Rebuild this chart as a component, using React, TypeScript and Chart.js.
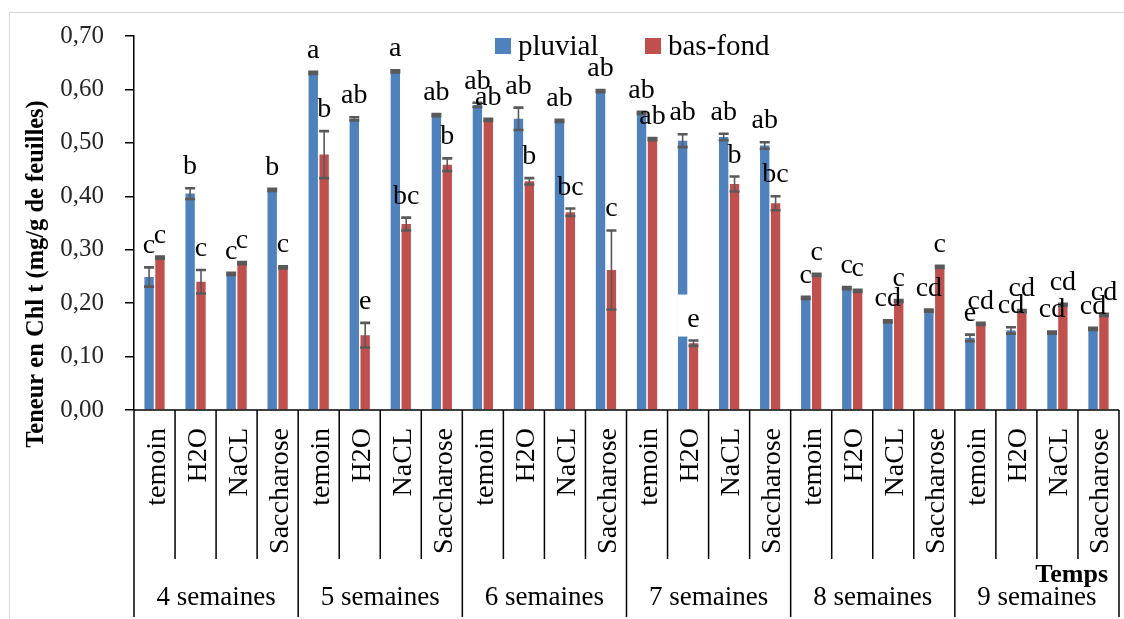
import React, { useEffect, useRef } from "react";
import { Chart, registerables } from "chart.js";

Chart.register(...registerables);

// ---- data ----
const weeks = ["4 semaines", "5 semaines", "6 semaines", "7 semaines", "8 semaines", "9 semaines"];
const treatments = ["temoin", "H2O", "NaCL", "Saccharose"];
const seriesNames = ["pluvial", "bas-fond"];

const pluvial = [
  0.249, 0.405, 0.255, 0.412,
  0.631, 0.545, 0.634, 0.552,
  0.571, 0.545, 0.541, 0.597,
  0.556, 0.504, 0.511, 0.495,
  0.210, 0.228, 0.166, 0.186,
  0.135, 0.149, 0.145, 0.152,
];
const pluvialErr = [
  0.018, 0.010, 0.002, 0.002,
  0.002, 0.003, 0.002, 0.002,
  0.004, 0.021, 0.002, 0.002,
  0.002, 0.012, 0.006, 0.006,
  0.002, 0.002, 0.002, 0.002,
  0.006, 0.006, 0.002, 0.002,
];
const basFond = [
  0.285, 0.240, 0.275, 0.267,
  0.478, 0.140, 0.348, 0.459,
  0.543, 0.428, 0.370, 0.262,
  0.507, 0.125, 0.423, 0.387,
  0.253, 0.223, 0.204, 0.268,
  0.161, 0.185, 0.197, 0.178,
];
const basFondErr = [
  0.002, 0.022, 0.002, 0.002,
  0.044, 0.023, 0.012, 0.012,
  0.002, 0.006, 0.007, 0.074,
  0.002, 0.005, 0.014, 0.013,
  0.002, 0.002, 0.002, 0.002,
  0.002, 0.002, 0.002, 0.002,
];
const pluvialLetters = [
  "c", "b", "c", "b",
  "a", "ab", "a", "ab",
  "ab", "ab", "ab", "ab",
  "ab", "ab", "ab", "ab",
  "c", "c", "cd", "cd",
  "e", "cd", "cd", "cd",
];
const basFondLetters = [
  "c", "c", "c", "c",
  "b", "e", "bc", "b",
  "ab", "b", "bc", "c",
  "ab", "e", "b", "bc",
  "c", "c", "c", "c",
  "cd", "cd", "cd", "cd",
];
const yTickValues = [0, 0.1, 0.2, 0.3, 0.4, 0.5, 0.6, 0.7];
const xTitle = "Temps";
const yTitle = "Teneur en Chl t (mg/g de feuilles)";
// label that has an opaque white box in the original: [dataset, index]
const boxedLabel = [1, 13];

const categories = weeks.flatMap((w) => treatments.map((t) => `${t} (${w})`));
const colors = ["#4f81bd", "#c0504d"];
const SERIF = "'Liberation Serif', 'Times New Roman', serif";

const overlay = {
  id: "overlay",
  afterDatasetsDraw(chart: any) {
    const ctx = chart.ctx as CanvasRenderingContext2D;
    const y = chart.scales.y;
    const errs = [pluvialErr, basFondErr];
    ctx.save();
    ctx.strokeStyle = "#595959";
    chart.data.datasets.forEach((ds: any, di: number) => {
      const meta = chart.getDatasetMeta(di);
      meta.data.forEach((bar: any, i: number) => {
        const v = ds.data[i];
        const e = errs[di][i];
        const yt = y.getPixelForValue(v + e);
        const yb = y.getPixelForValue(v - e);
        const cx = bar.x;
        const hw = 5;
        ctx.lineWidth = 1.6;
        ctx.beginPath();
        ctx.moveTo(cx, yt);
        ctx.lineTo(cx, yb);
        ctx.stroke();
        ctx.lineWidth = 2.6;
        ctx.beginPath();
        ctx.moveTo(cx - hw, yt);
        ctx.lineTo(cx + hw, yt);
        ctx.moveTo(cx - hw, yb);
        ctx.lineTo(cx + hw, yb);
        ctx.stroke();
      });
    });
    ctx.restore();
  },
  afterDraw(chart: any) {
    const ctx = chart.ctx as CanvasRenderingContext2D;
    const x = chart.scales.x;
    const y = chart.scales.y;
    const area = chart.chartArea;
    const n = categories.length;
    const step = (area.right - area.left) / n;
    const bottom = area.bottom;
    ctx.save();

    // outer frame
    ctx.strokeStyle = "#d9d9d9";
    ctx.lineWidth = 1;
    ctx.strokeRect(9.5, 12.5, 1200, 700);

    // x axis line and separators
    ctx.strokeStyle = "#000";
    ctx.lineWidth = 1.5;
    ctx.beginPath();
    ctx.moveTo(area.left, bottom);
    ctx.lineTo(area.right, bottom);
    for (let k = 0; k <= n; k++) {
      const px = k === n ? area.right : x.getPixelForValue(k) - step / 2;
      const isGroup = k % treatments.length === 0;
      ctx.moveTo(px, bottom);
      ctx.lineTo(px, isGroup ? bottom + 207 : bottom + 149);
    }
    ctx.stroke();

    // category labels (rotated)
    ctx.fillStyle = "#000";
    ctx.font = `28px ${SERIF}`;
    ctx.textAlign = "right";
    ctx.textBaseline = "alphabetic";
    for (let i = 0; i < n; i++) {
      const cx = x.getPixelForValue(i);
      ctx.save();
      ctx.translate(cx + 10, bottom + 18);
      ctx.rotate(-Math.PI / 2);
      ctx.fillText(treatments[i % treatments.length], 0, 0);
      ctx.restore();
    }

    // group labels
    ctx.font = `27px ${SERIF}`;
    ctx.textAlign = "center";
    weeks.forEach((w, g) => {
      const a = x.getPixelForValue(g * treatments.length) - step / 2;
      const b = a + step * treatments.length;
      ctx.fillText(w, (a + b) / 2, bottom + 195);
    });

    // x title
    ctx.font = `bold 26px ${SERIF}`;
    ctx.textAlign = "right";
    ctx.fillText(xTitle, area.right - 11, bottom + 172);

    // y title
    ctx.save();
    ctx.translate(43, 274);
    ctx.rotate(-Math.PI / 2);
    ctx.font = `bold 24.5px ${SERIF}`;
    ctx.textAlign = "center";
    ctx.fillText(yTitle, 0, 0);
    ctx.restore();

    // legend
    ctx.font = `29px ${SERIF}`;
    ctx.textAlign = "left";
    const legendX = [495, 645];
    seriesNames.forEach((name, i) => {
      ctx.fillStyle = colors[i];
      ctx.fillRect(legendX[i], 38, 16, 16);
      ctx.fillStyle = "#000";
      ctx.fillText(name, legendX[i] + 23, 55);
    });

    // data labels
    const letters = [pluvialLetters, basFondLetters];
    const errs = [pluvialErr, basFondErr];
    ctx.font = `28px ${SERIF}`;
    ctx.textAlign = "center";
    chart.data.datasets.forEach((ds: any, di: number) => {
      const meta = chart.getDatasetMeta(di);
      meta.data.forEach((bar: any, i: number) => {
        const top = y.getPixelForValue(ds.data[i] + errs[di][i]);
        const base = top - 14;
        if (di === boxedLabel[0] && i === boxedLabel[1]) {
          ctx.fillStyle = "#fff";
          ctx.fillRect(bar.x - 16, base - 32, 32, 42);
        }
        ctx.fillStyle = "#000";
        ctx.fillText(letters[di][i], bar.x, base);
      });
    });

    ctx.restore();
  },
};

export default function App() {
  const ref = useRef<HTMLCanvasElement>(null);
  useEffect(() => {
    document.body.style.margin = "0";
    const chart = new Chart(ref.current!, {
      type: "bar",
      data: {
        labels: categories,
        datasets: [
          {
            label: seriesNames[0],
            data: pluvial,
            backgroundColor: colors[0],
            categoryPercentage: 0.53,
            barPercentage: 0.86,
          },
          {
            label: seriesNames[1],
            data: basFond,
            backgroundColor: colors[1],
            categoryPercentage: 0.53,
            barPercentage: 0.86,
          },
        ],
      },
      options: {
        responsive: false,
        animation: false,
        devicePixelRatio: 1,
        layout: { padding: { top: 33, right: 5, left: 0, bottom: 0 } },
        plugins: { legend: { display: false }, tooltip: { enabled: false } },
        scales: {
          x: {
            ticks: { display: false },
            grid: { display: false },
            border: { display: false },
            afterFit: (s: any) => {
              s.height = 209;
            },
          },
          y: {
            min: 0,
            max: 0.7,
            afterBuildTicks: (s: any) => {
              s.ticks = yTickValues.map((v) => ({ value: v }));
            },
            ticks: {
              font: { family: SERIF, size: 25 },
              color: "#262626",
              padding: 21,
              callback: (v: any) => Number(v).toFixed(2).replace(".", ","),
            },
            grid: {
              drawOnChartArea: false,
              drawTicks: true,
              tickLength: 9,
              color: "#000",
              lineWidth: 1.5,
            },
            border: { display: true, color: "#000", width: 1.5 },
            afterFit: (s: any) => {
              s.width = 134;
            },
          },
        },
      },
      plugins: [overlay],
    });
    return () => chart.destroy();
  }, []);
  return (
    <div style={{ width: 1124, height: 619 }}>
      <canvas ref={ref} width={1124} height={619} />
    </div>
  );
}
